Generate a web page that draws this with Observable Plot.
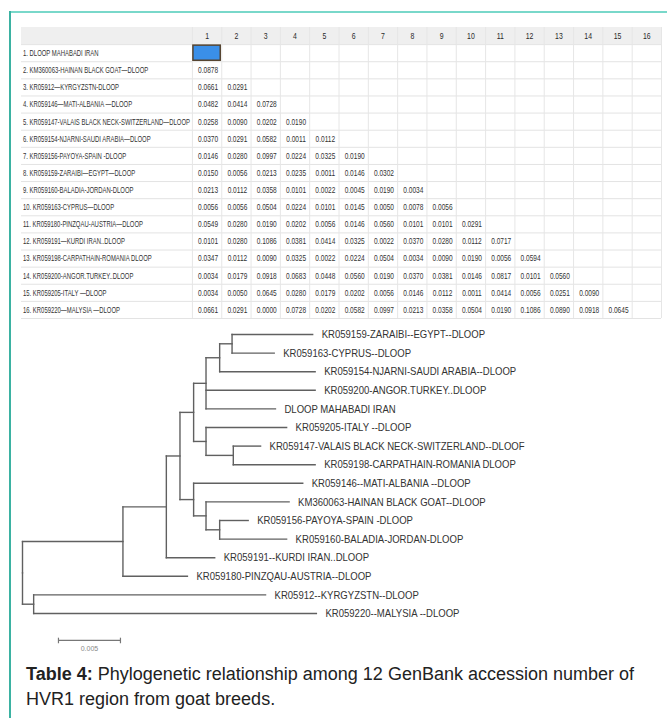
<!DOCTYPE html>
<html><head><meta charset="utf-8">
<script src="https://cdn.jsdelivr.net/npm/d3@7"></script>
<script src="https://cdn.jsdelivr.net/npm/@observablehq/plot@0.6"></script>
<style>
html,body{margin:0;padding:0;background:#fff;}
#wrap{position:relative;width:667px;height:718px;overflow:hidden;background:#fff;}
#wrap svg{position:absolute;left:0;top:0;background:transparent;}
.topline{position:absolute;left:10px;top:11px;width:657px;height:2px;background:#79d8ca;}
.leftline{position:absolute;left:9px;top:11px;width:2px;height:707px;background:#3bb2a2;}
#caption{position:absolute;left:26px;top:662px;width:640px;font-family:"Liberation Sans",Arial,sans-serif;font-size:18px;line-height:25px;color:#222;}
</style></head><body>
<div id="wrap"><div class="topline"></div><div class="leftline"></div>
<div id="caption"><b>Table 4:</b> Phylogenetic relationship among 12 GenBank accession number of HVR1 region from goat breeds.</div></div>
<script>
// ---------- data ----------
const colLabels = ["1","2","3","4","5","6","7","8","9","10","11","12","13","14","15","16"];
const rowLabels = [
  "1. DLOOP MAHABADI IRAN",
  "2. KM360063-HAINAN BLACK GOAT—DLOOP",
  "3. KR05912—KYRGYZSTN-DLOOP",
  "4. KR059146—MATI-ALBANIA —DLOOP",
  "5. KR059147-VALAIS BLACK NECK-SWITZERLAND—DLOOP",
  "6. KR059154-NJARNI-SAUDI ARABIA—DLOOP",
  "7. KR059156-PAYOYA-SPAIN -DLOOP",
  "8. KR059159-ZARAIBI—EGYPT—DLOOP",
  "9. KR059160-BALADIA-JORDAN-DLOOP",
  "10. KR059163-CYPRUS—DLOOP",
  "11. KR059180-PINZQAU-AUSTRIA—DLOOP",
  "12. KR059191—KURDI IRAN..DLOOP",
  "13. KR059198-CARPATHAIN-ROMANIA DLOOP",
  "14. KR059200-ANGOR.TURKEY..DLOOP",
  "15. KR059205-ITALY —DLOOP",
  "16. KR059220—MALYSIA —DLOOP"
];
// lower-triangular distance matrix: row i holds columns 1..i-1
const distances = [
  [],
  [0.0878],
  [0.0661,0.0291],
  [0.0482,0.0414,0.0728],
  [0.0258,0.0090,0.0202,0.0190],
  [0.0370,0.0291,0.0582,0.0011,0.0112],
  [0.0146,0.0280,0.0997,0.0224,0.0325,0.0190],
  [0.0150,0.0056,0.0213,0.0235,0.0011,0.0146,0.0302],
  [0.0213,0.0112,0.0358,0.0101,0.0022,0.0045,0.0190,0.0034],
  [0.0056,0.0056,0.0504,0.0224,0.0101,0.0145,0.0050,0.0078,0.0056],
  [0.0549,0.0280,0.0190,0.0202,0.0056,0.0146,0.0560,0.0101,0.0101,0.0291],
  [0.0101,0.0280,0.1086,0.0381,0.0414,0.0325,0.0022,0.0370,0.0280,0.0112,0.0717],
  [0.0347,0.0112,0.0090,0.0325,0.0022,0.0224,0.0504,0.0034,0.0090,0.0190,0.0056,0.0594],
  [0.0034,0.0179,0.0918,0.0683,0.0448,0.0560,0.0190,0.0370,0.0381,0.0146,0.0817,0.0101,0.0560],
  [0.0034,0.0050,0.0645,0.0280,0.0179,0.0202,0.0056,0.0146,0.0112,0.0011,0.0414,0.0056,0.0251,0.0090],
  [0.0661,0.0291,0.0000,0.0728,0.0202,0.0582,0.0997,0.0213,0.0358,0.0504,0.0190,0.1086,0.0890,0.0918,0.0645]
];
const highlightedCell = {row: 1, col: 1};

// tree tips (numbers in the Newick string refer to this list)
const tipLabels = [
  "KR059159-ZARAIBI--EGYPT--DLOOP",
  "KR059163-CYPRUS--DLOOP",
  "KR059154-NJARNI-SAUDI ARABIA--DLOOP",
  "KR059200-ANGOR.TURKEY..DLOOP",
  "DLOOP MAHABADI IRAN",
  "KR059205-ITALY --DLOOP",
  "KR059147-VALAIS BLACK NECK-SWITZERLAND--DLOOF",
  "KR059198-CARPATHAIN-ROMANIA DLOOP",
  "KR059146--MATI-ALBANIA --DLOOP",
  "KM360063-HAINAN BLACK GOAT--DLOOP",
  "KR059156-PAYOYA-SPAIN -DLOOP",
  "KR059160-BALADIA-JORDAN-DLOOP",
  "KR059191--KURDI IRAN..DLOOP",
  "KR059180-PINZQAU-AUSTRIA--DLOOP",
  "KR05912--KYRGYZSTN--DLOOP",
  "KR059220--MALYSIA --DLOOP"
];
const treeNewick = "(((((((((0:0.0065,1:0.0034):0.0010,2:0.0077):0.0011,3:0.0088,4:0.0056):0.0010,(5:0.0065,(6:0.0022,7:0.0066):0.0022):0.0010):0.0011,(8:0.0088,(9:0.0067,(10:0.0023,11:0.0054):0.0011):0.0010):0.0011):0.0011,12:0.0039):0.0035,13:0.0052):0.0081,(14:0.0187,15:0.0228):0.0009);";
const scaleBar = {start: 0.0029, length: 0.005, label: "0.005"};

// ---------- table ----------
const sans = '"Liberation Sans",Arial,sans-serif';
const nCols = colLabels.length, labelSpan = 5.83;
const cells = [];
distances.forEach((vals, r) => vals.forEach((v, c) => cells.push({row: r + 1, col: c + 1, v})));

const table = Plot.plot({
  width: 667, height: 718, margin: 0,
  x: {type: "linear", domain: [-labelSpan, nCols], range: [21, 661], axis: null},
  y: {type: "linear", domain: [0, 17], range: [27, 318], axis: null},
  marks: [
    Plot.rect([0], {x1: -labelSpan, x2: nCols, y1: 0, y2: 1, fill: "#efefef"}),
    Plot.ruleY(d3.range(1, 18), {x1: -labelSpan, x2: nCols, stroke: "#e3e3e3"}),
    Plot.ruleX(d3.range(0, nCols + 1), {y1: 0, y2: 17, stroke: "#e6e6e6"}),
    Plot.rect([highlightedCell], {x1: d => d.col - 1, x2: d => d.col, y1: d => d.row, y2: d => d.row + 1,
      inset: 1, fill: "#3a8fe8", stroke: "#54432f", strokeWidth: 1.5}),
    Plot.text(colLabels, {x: (d, i) => i + 0.5, y: 0.5, text: d => d, fontSize: 9.5,
      fontFamily: sans, fill: "#2a2a2a"}),
    Plot.text(rowLabels, {x: -labelSpan, y: (d, i) => i + 1.5, text: d => d, textAnchor: "start", dx: 1.5,
      fontSize: 9, fontFamily: sans, fill: "#333"}),
    Plot.text(cells, {x: d => d.col - 0.5, y: d => d.row + 0.5, text: d => d.v.toFixed(4), dx: 1,
      fontSize: 9, fontFamily: sans, fill: "#333"})
  ]
});

// ---------- tree ----------
function parseNewick(s) {
  let i = 0;
  function node() {
    const n = {children: [], name: "", length: 0};
    if (s[i] === "(") {
      i++;
      n.children.push(node());
      while (s[i] === ",") { i++; n.children.push(node()); }
      i++;
    }
    let name = "";
    while (i < s.length && !",():;".includes(s[i])) name += s[i++];
    n.name = name.trim();
    if (s[i] === ":") {
      i++; let num = "";
      while (i < s.length && !",();".includes(s[i])) num += s[i++];
      n.length = +num;
    }
    return n;
  }
  return node();
}
const root = parseNewick(treeNewick);
const hSegs = [], vSegs = [], tips = [];
let leafIdx = 0;
(function layout(n, x0) {
  n.x = x0 + n.length;
  if (!n.children.length) { n.y = leafIdx++; tips.push(n); }
  else {
    n.children.forEach(c => layout(c, n.x));
    const a = n.children[0].y, b = n.children[n.children.length - 1].y;
    n.y = (a + b) / 2;
    vSegs.push({x: n.x, y1: a, y2: b});
  }
  if (n.length > 0) hSegs.push({x1: x0, x2: n.x, y: n.y});
})(root, 0);

const barY = 16.45;
const tree = Plot.plot({
  width: 667, height: 718, margin: 0,
  x: {type: "linear", domain: [0, 0.05], range: [22, 642], axis: null},
  y: {type: "linear", domain: [0, 15], range: [334, 613], axis: null},
  marks: [
    Plot.link(hSegs, {x1: "x1", x2: "x2", y1: "y", y2: "y", stroke: "#606060", strokeWidth: 1.4, strokeLinecap: "square"}),
    Plot.link(vSegs, {x1: "x", x2: "x", y1: "y1", y2: "y2", stroke: "#606060", strokeWidth: 1.4, strokeLinecap: "square"}),
    Plot.text(tips, {x: "x", y: "y", text: d => tipLabels[+d.name], textAnchor: "start", dx: 9,
      fontSize: 11.5, fontFamily: sans, fill: "#333"}),
    Plot.link([scaleBar], {x1: d => d.start, x2: d => d.start + d.length, y1: barY, y2: barY, stroke: "#777", strokeWidth: 1.2}),
    Plot.link([scaleBar.start, scaleBar.start + scaleBar.length], {x1: d => d, x2: d => d, y1: barY - 0.15, y2: barY + 0.15, stroke: "#777", strokeWidth: 1.2}),
    Plot.text([scaleBar], {x: d => d.start + d.length / 2, y: barY, text: d => d.label, dy: 8, fontSize: 7, fontFamily: sans, fill: "#888"})
  ]
});

const wrap = document.getElementById("wrap");
wrap.appendChild(table);
wrap.appendChild(tree);

// condense text horizontally to mimic the narrow typeface of the original
function squeeze(nodes, factor) {
  nodes.forEach(t => {
    const L = t.getComputedTextLength();
    t.setAttribute("textLength", (L * factor).toFixed(2));
    t.setAttribute("lengthAdjust", "spacingAndGlyphs");
  });
}
const tTexts = Array.from(table.querySelectorAll("text"));
const labelNodes = tTexts.filter(t => /^\d+\.\s/.test(t.textContent));
const numNodes = tTexts.filter(t => !/^\d+\.\s/.test(t.textContent));
const ref5 = labelNodes.find(t => t.textContent.startsWith("5."));
const refNum = numNodes.find(t => t.textContent === "0.0878");
const fLab = ref5 ? 167 / ref5.getComputedTextLength() : 0.8;
const fNum = refNum ? 20 / refNum.getComputedTextLength() : 0.8;
squeeze(labelNodes, fLab);
squeeze(numNodes, fNum);
const trTexts = Array.from(tree.querySelectorAll("text")).filter(t => t.textContent !== scaleBar.label);
const refTip = trTexts.find(t => t.textContent.includes("VALAIS"));
const fTip = refTip ? 255 / refTip.getComputedTextLength() : 0.85;
squeeze(trTexts, fTip);
</script>
</body></html>
